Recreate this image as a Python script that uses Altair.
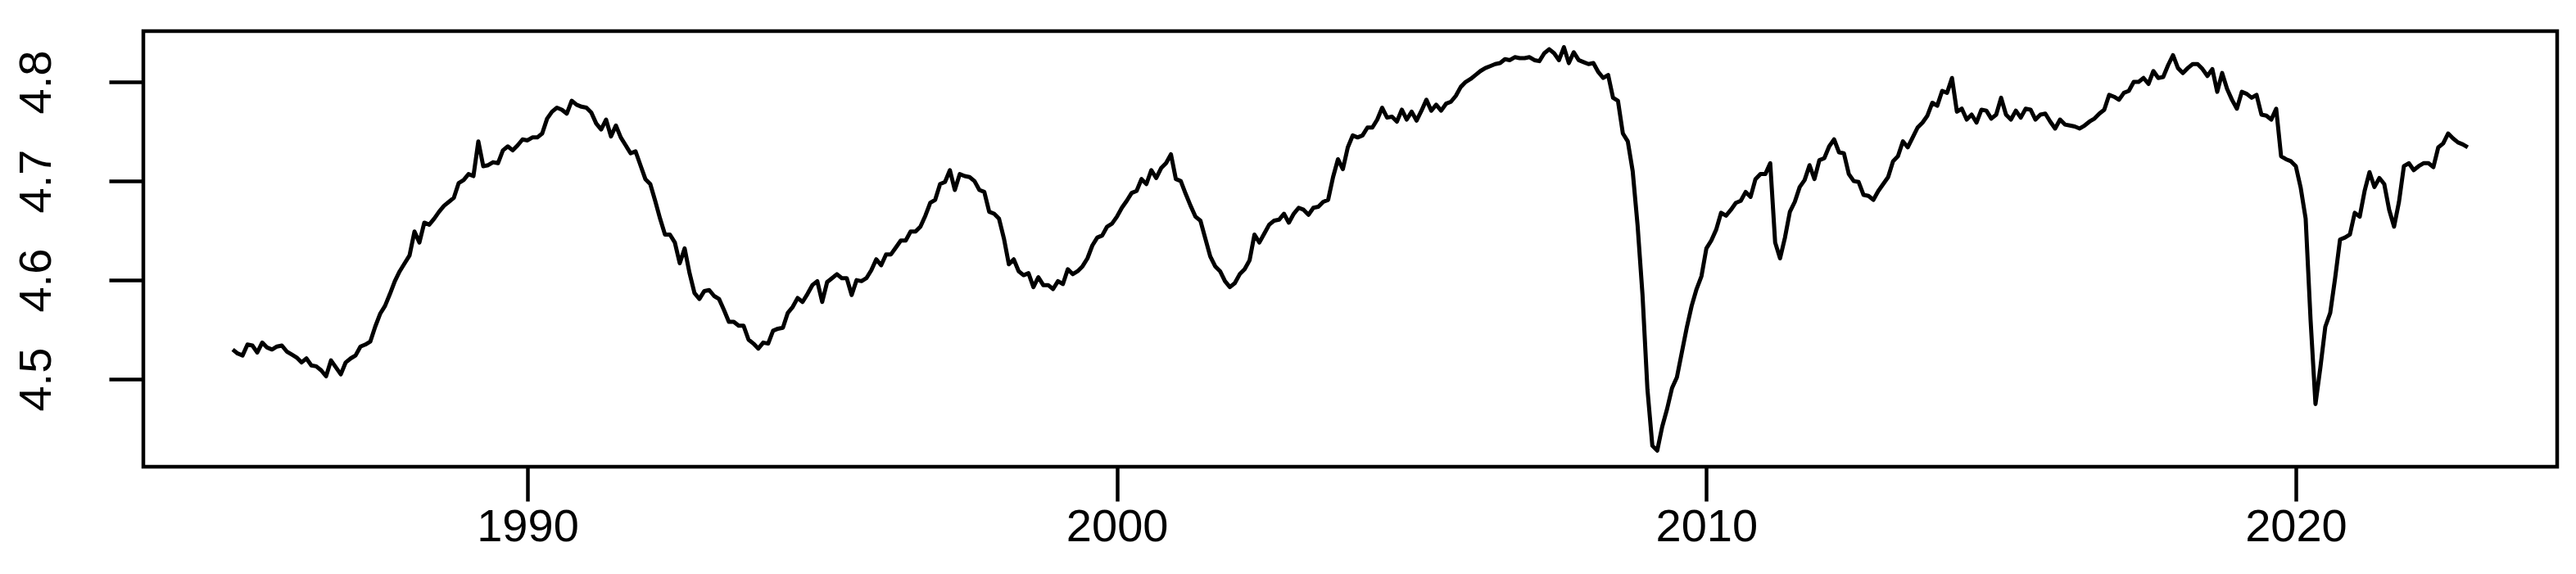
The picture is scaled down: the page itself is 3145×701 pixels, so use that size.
import altair as alt
import pandas as pd

# Monthly series, January 1985 - December 2022 (one row of 12 = one year)
start_year = 1985

vals_1985_1989 = [
    4.530, 4.526, 4.524, 4.535, 4.534, 4.527, 4.537, 4.532, 4.530, 4.533, 4.534, 4.528,
    4.525, 4.522, 4.517, 4.521, 4.514, 4.513, 4.509, 4.503, 4.519, 4.512, 4.505, 4.517,
    4.521, 4.524, 4.533, 4.535, 4.538, 4.553, 4.566, 4.574, 4.586, 4.599, 4.609, 4.617,
    4.625, 4.649, 4.638, 4.658, 4.656, 4.662, 4.669, 4.675, 4.679, 4.683, 4.698, 4.701,
    4.707, 4.705, 4.740, 4.715, 4.716, 4.719, 4.718, 4.731, 4.735, 4.731, 4.736, 4.742,
]
vals_1990_1994 = [
    4.741, 4.744, 4.744, 4.748, 4.763, 4.770, 4.774, 4.772, 4.768, 4.781, 4.777, 4.775,
    4.774, 4.769, 4.758, 4.752, 4.762, 4.745, 4.756, 4.744, 4.736, 4.728, 4.730, 4.716,
    4.702, 4.697, 4.680, 4.662, 4.646, 4.646, 4.638, 4.617, 4.632, 4.607, 4.587, 4.581,
    4.589, 4.590, 4.584, 4.581, 4.570, 4.558, 4.558, 4.554, 4.554, 4.540, 4.536, 4.531,
    4.537, 4.536, 4.549, 4.551, 4.552, 4.567, 4.573, 4.582, 4.578, 4.586, 4.595, 4.599,
]
vals_1995_1999 = [
    4.578, 4.598, 4.602, 4.606, 4.602, 4.602, 4.585, 4.600, 4.599, 4.602, 4.610, 4.621,
    4.615, 4.626, 4.626, 4.633, 4.640, 4.640, 4.649, 4.649, 4.654, 4.665, 4.678, 4.681,
    4.697, 4.699, 4.711, 4.691, 4.707, 4.705, 4.704, 4.700, 4.691, 4.689, 4.669, 4.667,
    4.662, 4.642, 4.616, 4.621, 4.609, 4.605, 4.607, 4.593, 4.603, 4.595, 4.595, 4.591,
    4.599, 4.596, 4.611, 4.606, 4.609, 4.614, 4.622, 4.635, 4.643, 4.645, 4.654, 4.657,
]
vals_2000_2004 = [
    4.664, 4.673, 4.680, 4.688, 4.690, 4.702, 4.697, 4.711, 4.703, 4.713, 4.718, 4.727,
    4.702, 4.700, 4.687, 4.675, 4.664, 4.660, 4.642, 4.624, 4.614, 4.609, 4.599, 4.593,
    4.597, 4.606, 4.611, 4.620, 4.646, 4.638, 4.647, 4.656, 4.660, 4.661, 4.667, 4.658,
    4.667, 4.673, 4.671, 4.666, 4.673, 4.674, 4.679, 4.681, 4.704, 4.722, 4.712, 4.734,
    4.746, 4.744, 4.746, 4.754, 4.754, 4.762, 4.774, 4.764, 4.765, 4.760, 4.772, 4.762,
]
vals_2005_2009 = [
    4.770, 4.761, 4.771, 4.782, 4.771, 4.777, 4.771, 4.778, 4.780, 4.786, 4.795, 4.800,
    4.803, 4.807, 4.811, 4.814, 4.816, 4.818, 4.819, 4.823, 4.822, 4.825, 4.824, 4.824,
    4.825, 4.822, 4.821, 4.829, 4.833, 4.829, 4.822, 4.835, 4.819, 4.830, 4.822, 4.820,
    4.818, 4.819, 4.810, 4.804, 4.807, 4.784, 4.781, 4.748, 4.740, 4.710, 4.655, 4.585,
    4.490, 4.433, 4.428, 4.452, 4.470, 4.491, 4.502, 4.527, 4.552, 4.574, 4.591, 4.604,
]
vals_2010_2014 = [
    4.632, 4.640, 4.651, 4.668, 4.665, 4.671, 4.678, 4.680, 4.689, 4.684, 4.702, 4.707,
    4.707, 4.718, 4.638, 4.622, 4.643, 4.669, 4.679, 4.694, 4.701, 4.716, 4.702, 4.721,
    4.723, 4.735, 4.742, 4.729, 4.728, 4.707, 4.700, 4.699, 4.686, 4.685, 4.681, 4.690,
    4.697, 4.704, 4.720, 4.725, 4.740, 4.734, 4.744, 4.754, 4.759, 4.766, 4.779, 4.776,
    4.791, 4.789, 4.804, 4.770, 4.773, 4.762, 4.767, 4.759, 4.772, 4.771, 4.763, 4.767,
]
vals_2015_2019 = [
    4.784, 4.767, 4.762, 4.771, 4.764, 4.773, 4.772, 4.762, 4.767, 4.768, 4.760, 4.753,
    4.762, 4.757, 4.756, 4.755, 4.753, 4.756, 4.760, 4.763, 4.768, 4.772, 4.787, 4.785,
    4.782, 4.789, 4.791, 4.800, 4.800, 4.804, 4.798, 4.811, 4.804, 4.805, 4.817, 4.827,
    4.814, 4.809, 4.814, 4.818, 4.818, 4.813, 4.806, 4.813, 4.790, 4.809, 4.793, 4.782,
    4.773, 4.790, 4.788, 4.784, 4.787, 4.767, 4.766, 4.762, 4.773, 4.725, 4.722, 4.720,
]
vals_2020_2022 = [
    4.715, 4.693, 4.662, 4.560, 4.475, 4.512, 4.553, 4.567, 4.602, 4.641, 4.643, 4.646,
    4.668, 4.664, 4.690, 4.709, 4.694, 4.703, 4.697, 4.671, 4.654, 4.679, 4.715, 4.718,
    4.711, 4.715, 4.718, 4.718, 4.714, 4.734, 4.738, 4.748, 4.743, 4.739, 4.737, 4.734,
]

x_tick_labels = [1990, 2000, 2010, 2020]
y_tick_labels = [4.5, 4.6, 4.7, 4.8]

values = (vals_1985_1989 + vals_1990_1994 + vals_1995_1999 + vals_2000_2004
          + vals_2005_2009 + vals_2010_2014 + vals_2015_2019 + vals_2020_2022)
times = [start_year + i / 12 for i in range(len(values))]
df = pd.DataFrame({"t": times, "v": values})

# R-style axis ranges: data range extended by 4% on each side
t_lo, t_hi = min(times), max(times)
v_lo, v_hi = min(values), max(values)
tp = 0.04 * (t_hi - t_lo)
vp = 0.04 * (v_hi - v_lo)

FONT = "Liberation Sans"
FS = 56

chart = (
    alt.Chart(df)
    .mark_line(color="black", strokeWidth=5, strokeJoin="round")
    .encode(
        x=alt.X(
            "t:Q",
            scale=alt.Scale(domain=[t_lo - tp, t_hi + tp], nice=False, zero=False),
            axis=alt.Axis(
                values=x_tick_labels, format="d", title=None, grid=False, domain=False,
                tickSize=42, tickWidth=4.5, tickColor="black",
                labelFont=FONT, labelFontSize=FS, labelColor="black", labelPadding=4,
            ),
        ),
        y=alt.Y(
            "v:Q",
            scale=alt.Scale(domain=[v_lo - vp, v_hi + vp], nice=False, zero=False),
            axis=alt.Axis(
                values=y_tick_labels, format=".1f", title=None, grid=False, domain=False,
                tickSize=42, tickWidth=4.5, tickColor="black",
                labelFont=FONT, labelFontSize=FS, labelColor="black",
                labelAngle=270, labelAlign="center", labelBaseline="bottom", labelPadding=60,
            ),
        ),
    )
    .properties(
        width=2947,
        height=532,
        padding={"left": 167, "top": 30, "right": 10, "bottom": 115},
        autosize=alt.AutoSizeParams(type="none"),
        background="white",
    )
    .configure_view(stroke="black", strokeWidth=4.5)
)

chart.save("out.html", embed_options={"renderer": "svg", "actions": False})
